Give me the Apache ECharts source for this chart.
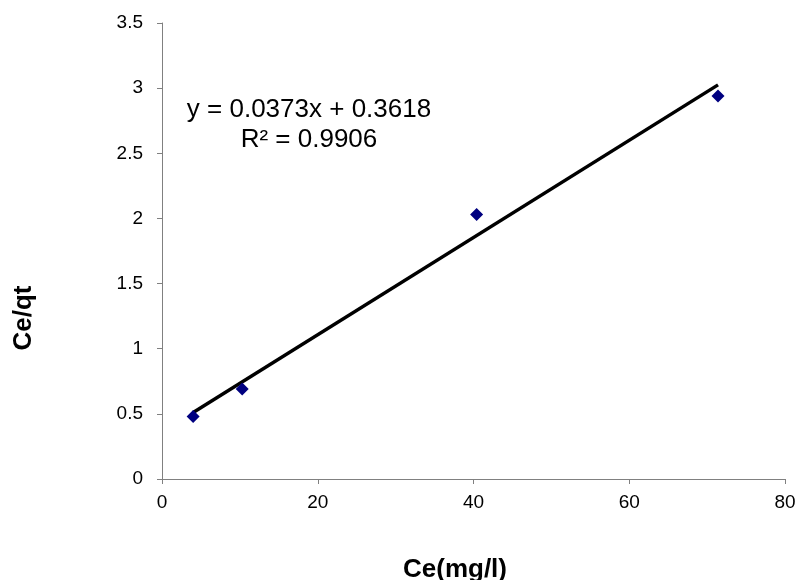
<!DOCTYPE html>
<html>
<head>
<meta charset="utf-8">
<style>
  html, body { margin: 0; padding: 0; background: #fff; }
  #chart { width: 797px; height: 580px; }
</style>
<script src="https://cdn.jsdelivr.net/npm/echarts@6/dist/echarts.min.js"></script>
</head>
<body>
<div id="chart"></div>
<script>
// data
const ceValues = [4.0, 10.3, 40.4, 71.4]
const ceQtValues = [0.48, 0.69, 2.03, 2.94]
const slope = 0.0373
const intercept = 0.3618
const rSquared = 0.9906

const points = ceValues.map((x, i) => [x, ceQtValues[i]])
const xFirst = ceValues[0]
const xLast = ceValues[ceValues.length - 1]
const trend = [[xFirst, slope * xFirst + intercept], [xLast, slope * xLast + intercept]]

const chart = echarts.init(document.getElementById('chart'))

const axisCommon = {
  axisLine: { show: true, lineStyle: { color: '#808080', width: 1 } },
  axisTick: { show: true, inside: false, length: 5, lineStyle: { color: '#808080' } },
  splitLine: { show: false },
  axisLabel: { color: '#000', fontFamily: 'Liberation Sans', fontSize: 19 }
}

const titleFont = 'bold 26px "Liberation Sans"'

chart.setOption({
  animation: false,
  backgroundColor: '#fff',
  grid: { left: 162, right: 12, top: 23, bottom: 101, containLabel: false, outerBoundsMode: 'none' },
  xAxis: Object.assign({}, axisCommon, {
    type: 'value', min: 0, max: 80, interval: 20,
    axisLabel: Object.assign({}, axisCommon.axisLabel, { margin: 14 })
  }),
  yAxis: Object.assign({}, axisCommon, {
    type: 'value', min: 0, max: 3.5, interval: 0.5,
    axisLabel: Object.assign({}, axisCommon.axisLabel, { margin: 19 })
  }),
  graphic: [
    {
      type: 'text', x: 309, y: 95,
      style: {
        text: 'y = ' + slope.toFixed(4) + 'x + ' + intercept.toFixed(4) + '\nR² = ' + rSquared.toFixed(4),
        fill: '#000', font: '26px "Liberation Sans"', lineHeight: 30,
        align: 'center', verticalAlign: 'top'
      }
    },
    {
      type: 'text', x: 24, y: 318, rotation: Math.PI / 2,
      style: { text: 'Ce/qt', fill: '#000', font: titleFont, align: 'center', verticalAlign: 'middle' }
    },
    {
      type: 'text', x: 455, y: 557,
      style: { text: 'Ce(mg/l)', fill: '#000', font: titleFont, align: 'center', verticalAlign: 'top' }
    }
  ],
  series: [
    {
      type: 'line', data: trend, symbol: 'none', z: 2,
      lineStyle: { color: '#000', width: 3.5 }
    },
    {
      type: 'scatter', data: points, symbol: 'diamond', symbolSize: 13, z: 3,
      itemStyle: { color: '#000080', opacity: 1 }
    }
  ]
})
</script>
</body>
</html>
